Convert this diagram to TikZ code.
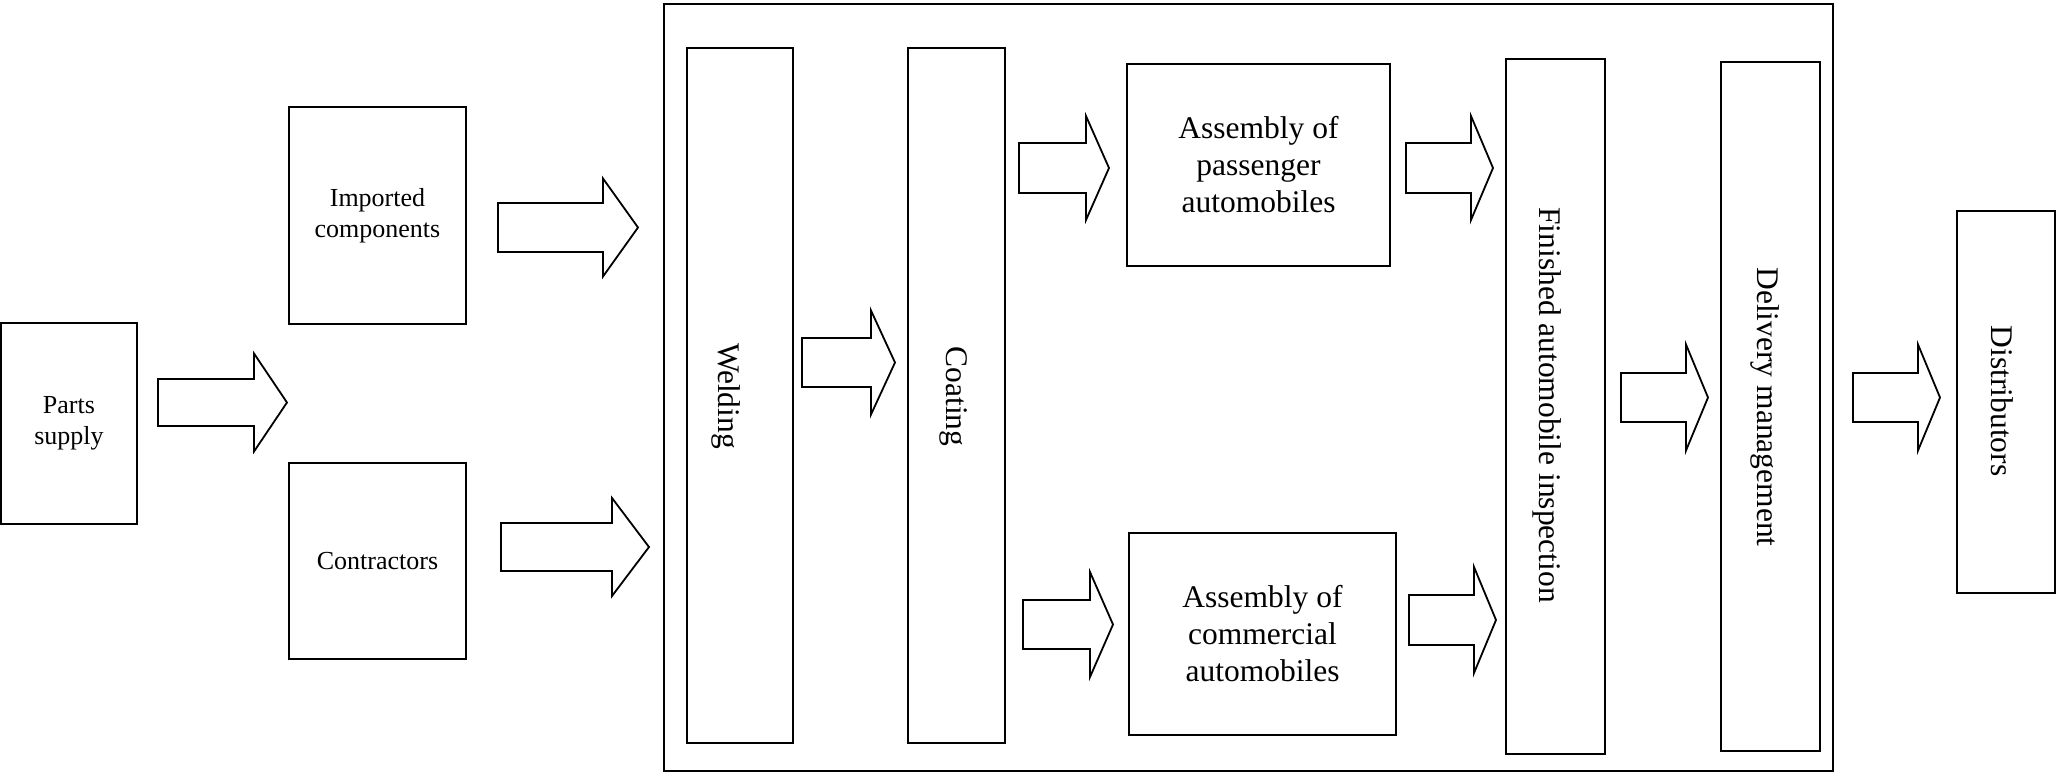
\documentclass[tikz,border=0pt]{standalone}
\usepackage{fontspec}
\setmainfont{Liberation Serif}
\usetikzlibrary{calc}

% hollow block arrow: tail x, head base x, tip x, centre y, shaft half-height, head half-height
\newcommand{\flowarrow}[6]{%
  \draw[blockarrow] (#1,#4-#5) -- (#2,#4-#5) -- (#2,#4-#6) -- (#3,#4)
    -- (#2,#4+#6) -- (#2,#4+#5) -- (#1,#4+#5) -- cycle;}

\tikzset{
  box/.style={draw, line width=1.8pt, rectangle, inner sep=0pt, outer sep=0pt,
    align=center, font=\fontsize{26}{31}\selectfont},
  bigbox/.style={box, font=\fontsize{31.5}{37}\selectfont},
  column/.style={draw, line width=1.8pt, rectangle, inner sep=0pt, outer sep=0pt},
  vlabel/.style={rotate=-90, anchor=base, inner sep=0pt, font=\fontsize{31.5}{37}\selectfont},
  blockarrow/.style={draw, line width=1.8pt, fill=white, line join=miter},
  frame/.style={draw, line width=1.8pt, inner sep=0pt, outer sep=0pt}
}

\begin{document}
\begin{tikzpicture}[x=1pt,y=-1pt]
\useasboundingbox[fill=white] (0,0) rectangle (2056,772);

% suppliers
\node[box, minimum width=136pt, minimum height=201pt] (parts) at (69,423.5) {Parts\\supply};
\node[box, minimum width=177pt, minimum height=217pt] (imported) at (377.5,215.5) {Imported\\components};
\node[box, minimum width=177pt, minimum height=196pt] (contractors) at (377.5,561) {Contractors};

% plant
\node[frame, minimum width=1169pt, minimum height=767pt] (plant) at (1248.5,387.5) {};
\node[column, minimum width=106pt, minimum height=695pt] (welding) at (740,395.5) {};
\node[column, minimum width=97pt, minimum height=695pt] (coating) at (956.5,395.5) {};
\node[bigbox, minimum width=263pt, minimum height=202pt] (passenger) at (1258.5,165) {Assembly of\\passenger\\automobiles};
\node[bigbox, minimum width=267pt, minimum height=202pt] (commercial) at (1262.5,634) {Assembly of\\commercial\\automobiles};
\node[column, minimum width=99pt, minimum height=695pt] (inspection) at (1555.5,406.5) {};
\node[column, minimum width=99pt, minimum height=689pt] (delivery) at (1770.5,406.5) {};

% dealers
\node[column, minimum width=98pt, minimum height=382pt] (distributors) at (2006,402) {};

% vertical labels
\node[vlabel] (weldingtext) at (718,396) {Welding};
\node[vlabel] (coatingtext) at (946,396.5) {Coating};
\node[vlabel] (inspectiontext) at (1539,405) {Finished automobile inspection};
\node[vlabel] (deliverytext) at (1757,407) {Delivery management};
\node[vlabel] (distributorstext) at (1991,401) {Distributors};

% flow arrows
\flowarrow{158}{254}{287}{402.5}{23.5}{49}
\flowarrow{498}{603}{638}{227.5}{24.5}{49}
\flowarrow{501}{612}{649}{547}{24}{49}
\flowarrow{802}{871}{895}{362.5}{24.5}{52}
\flowarrow{1019}{1086}{1109}{168}{25}{52}
\flowarrow{1023}{1090}{1113}{624.5}{24.5}{52.5}
\flowarrow{1406}{1471}{1493}{168}{25}{52}
\flowarrow{1409}{1474}{1496}{620}{25}{53}
\flowarrow{1621}{1686}{1708}{397.5}{24.5}{53}
\flowarrow{1853}{1918}{1940}{397.5}{24.5}{53}
\end{tikzpicture}
\end{document}
